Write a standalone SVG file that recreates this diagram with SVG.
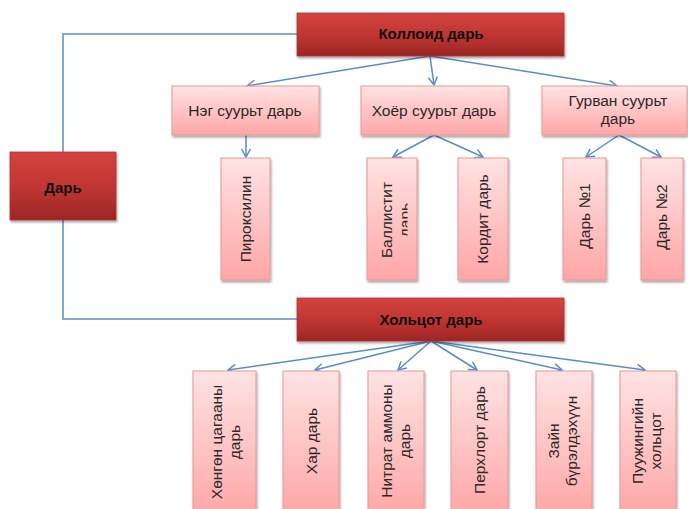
<svg xmlns="http://www.w3.org/2000/svg" width="688" height="509" viewBox="0 0 688 509">
<defs>
<linearGradient id="gDark" x1="0" y1="0" x2="0" y2="1">
<stop offset="0" stop-color="#d4433f"/><stop offset="0.5" stop-color="#c03633"/><stop offset="1" stop-color="#9c2624"/>
</linearGradient>
<linearGradient id="gLight" x1="0" y1="0" x2="0" y2="1">
<stop offset="0" stop-color="#ffe3e3"/><stop offset="1" stop-color="#ffa6a6"/>
</linearGradient>
<filter id="sh" x="-20%" y="-20%" width="140%" height="140%">
<feDropShadow dx="1" dy="2" stdDeviation="1.3" flood-color="#000" flood-opacity="0.35"/>
</filter>
<marker id="arr" markerUnits="userSpaceOnUse" markerWidth="12" markerHeight="12" refX="9" refY="5" orient="auto" viewBox="0 0 12 10">
<path d="M1,0.5 L9,5 L1,9.5" fill="none" stroke="#5a8ccb" stroke-width="1.5"/>
</marker>
<clipPath id="clipBal"><rect x="360" y="150" width="47.5" height="140"/></clipPath>
</defs>
<style>
.dark{fill:url(#gDark);stroke:#b03330;stroke-width:0.8;filter:url(#sh)}
.light{fill:url(#gLight);stroke:#e29a98;stroke-width:1;filter:url(#sh)}
.tb{font-family:"Liberation Sans",Arial,sans-serif;font-size:15px;font-weight:bold;fill:#111;text-anchor:middle}
.t{font-family:"Liberation Sans",Arial,sans-serif;font-size:15.5px;fill:#2a2a2a;text-anchor:middle}
.c{fill:none;stroke:#5a8ccb;stroke-width:1.5}
.ca{fill:none;stroke:#5a8ccb;stroke-width:1.5;marker-end:url(#arr)}
</style>
<rect width="688" height="509" fill="#fff"/>

<g id="connectors">
<polyline class="c" points="297,34 63,34 63,152"/>
<polyline class="c" points="63,220 63,319 297,319"/>
<line class="ca" x1="430" y1="56" x2="247" y2="86"/>
<line class="ca" x1="430" y1="56" x2="434" y2="85"/>
<line class="ca" x1="430" y1="56" x2="617" y2="86"/>
<line class="ca" x1="246" y1="135" x2="246" y2="157"/>
<line class="ca" x1="434" y1="135" x2="393" y2="157"/>
<line class="ca" x1="434" y1="135" x2="483" y2="157"/>
<line class="ca" x1="619" y1="135" x2="586" y2="157"/>
<line class="ca" x1="619" y1="135" x2="661" y2="157"/>
<line class="ca" x1="431" y1="341" x2="228" y2="370"/>
<line class="ca" x1="431" y1="341" x2="315" y2="370"/>
<line class="ca" x1="431" y1="341" x2="398" y2="370"/>
<line class="ca" x1="431" y1="341" x2="477" y2="370"/>
<line class="ca" x1="431" y1="341" x2="562" y2="370"/>
<line class="ca" x1="431" y1="341" x2="645" y2="370"/>
</g>

<g id="koloid"><rect class="dark" x="297" y="13" width="267" height="43"/><text class="tb" x="431" y="39">Коллоид дарь</text></g>
<g id="dar"><rect class="dark" x="10" y="152" width="106" height="68"/><text class="tb" x="63" y="193">Дарь</text></g>
<g id="holtsot"><rect class="dark" x="297" y="298" width="267" height="43"/><text class="tb" x="431" y="325">Хольцот дарь</text></g>

<g id="neg"><rect class="light" x="172" y="86" width="147" height="49"/><text class="t" x="245" y="116">Нэг суурьт дарь</text></g>
<g id="hoyor"><rect class="light" x="361" y="86" width="147" height="49"/><text class="t" x="434" y="116">Хоёр суурьт дарь</text></g>
<g id="gurvan"><rect class="light" x="542" y="86" width="145" height="49"/><text class="t" x="618" y="106">Гурван суурьт</text><text class="t" x="618" y="124">дарь</text></g>

<g id="piroksilin"><rect class="light" x="221" y="158" width="49" height="122"/><text class="t" transform="translate(245.5,219) rotate(-90)" y="5">Пироксилин</text></g>
<g id="ballistit"><rect class="light" x="367" y="158" width="50" height="122"/>
<text class="t" transform="translate(387,220) rotate(-90)" y="5">Баллистит</text>
<g clip-path="url(#clipBal)"><text class="t" transform="translate(387,220) rotate(-90)" y="23">дарь</text></g></g>
<g id="kordit"><rect class="light" x="458" y="158" width="50" height="122"/><text class="t" transform="translate(483,219) rotate(-90)" y="5">Кордит дарь</text></g>
<g id="dar1"><rect class="light" x="563" y="158" width="43" height="122"/><text class="t" transform="translate(584.5,216) rotate(-90)" y="5">Дарь №1</text></g>
<g id="dar2"><rect class="light" x="641" y="158" width="42" height="122"/><text class="t" transform="translate(662,217) rotate(-90)" y="5">Дарь №2</text></g>

<g id="hongon"><rect class="light" x="193" y="371" width="63" height="145"/><text class="t" transform="translate(226,442) rotate(-90)"><tspan x="0" y="-4">Хөнгөн цагааны</tspan><tspan x="0" y="14">дарь</tspan></text></g>
<g id="har"><rect class="light" x="283" y="371" width="56" height="145"/><text class="t" transform="translate(312,441) rotate(-90)" y="5">Хар дарь</text></g>
<g id="nitrat"><rect class="light" x="368" y="371" width="56" height="145"/><text class="t" transform="translate(396,441) rotate(-90)"><tspan x="0" y="-4">Нитрат аммоны</tspan><tspan x="0" y="14">дарь</tspan></text></g>
<g id="perhlort"><rect class="light" x="451" y="371" width="57" height="145"/><text class="t" transform="translate(480,440) rotate(-90)" y="5">Перхлорт дарь</text></g>
<g id="zain"><rect class="light" x="536" y="371" width="56" height="145"/><text class="t" transform="translate(562.5,441) rotate(-90)"><tspan x="0" y="-4">Зайн</tspan><tspan x="0" y="14">бүрэлдэхүүн</tspan></text></g>
<g id="puujin"><rect class="light" x="620" y="371" width="56" height="145"/><text class="t" transform="translate(647,441) rotate(-90)"><tspan x="0" y="-4">Пуужингийн</tspan><tspan x="0" y="14">хольцот</tspan></text></g>
</svg>
